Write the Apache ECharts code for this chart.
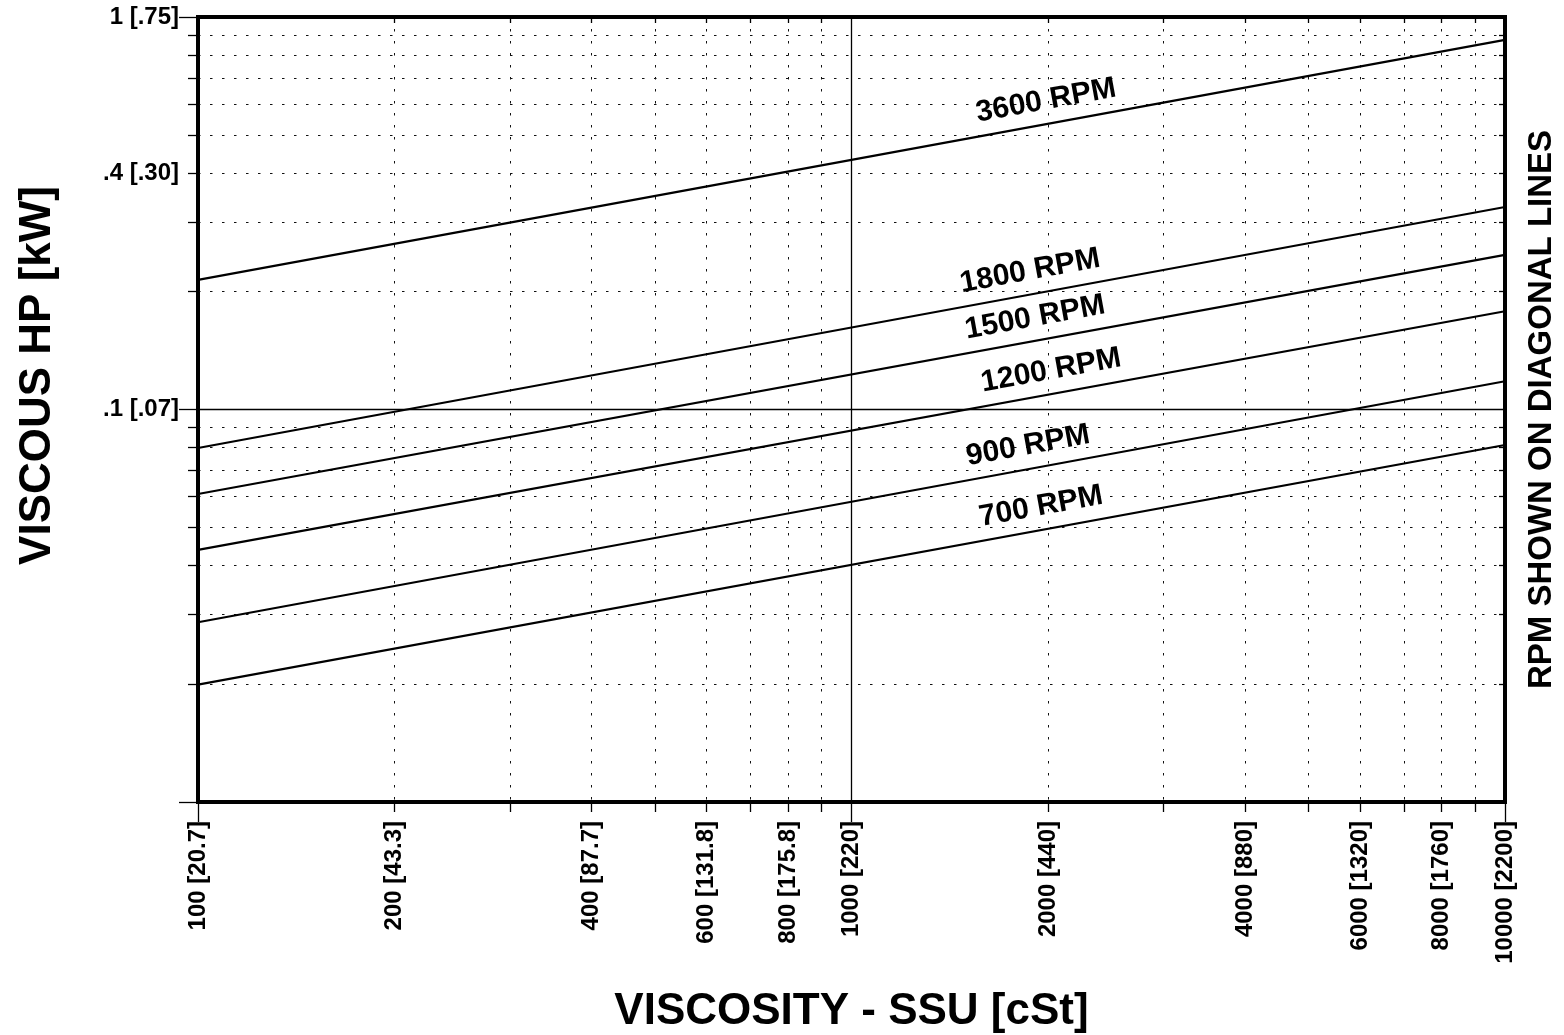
<!DOCTYPE html>
<html><head><meta charset="utf-8">
<script src="https://cdn.jsdelivr.net/npm/echarts@6/dist/echarts.min.js"></script>
<style>html,body{margin:0;padding:0;background:#fff}#c{width:1564px;height:1035px}</style>
</head><body><div id="c"></div>
<script>
// ---- data ----
const rpmNames = ['3600 RPM', '1800 RPM', '1500 RPM', '1200 RPM', '900 RPM', '700 RPM'];
const viscosityEnds = [100, 10000];
const hp3600 = [0.214, 0.874];
const hp1800 = [0.0798, 0.328];
const hp1500 = [0.0609, 0.2476];
const hp1200 = [0.0439, 0.178];
const hp900 = [0.0287, 0.118];
const hp700 = [0.0199, 0.0812];
const hpSeries = [hp3600, hp1800, hp1500, hp1200, hp900, hp700];

const xMajorTicks = [100, 1000, 10000];
const xMinorTicks = [200, 300, 400, 500, 600, 700, 800, 900, 2000, 3000, 4000, 5000, 6000, 7000, 8000, 9000];
const xLabelValues = [100, 200, 400, 600, 800, 1000, 2000, 4000, 6000, 8000, 10000];
const xLabelTexts = ['100 [20.7]', '200 [43.3]', '400 [87.7]', '600 [131.8]', '800 [175.8]', '1000 [220]', '2000 [440]', '4000 [880]', '6000 [1320]', '8000 [1760]', '10000 [2200]'];
const yMajorTicks = [0.01, 0.1, 1];
const yMinorTicks = [0.02, 0.03, 0.04, 0.05, 0.06, 0.07, 0.08, 0.09, 0.2, 0.3, 0.4, 0.5, 0.6, 0.7, 0.8, 0.9];
const yLabelValues = [0.1, 0.4, 1];
const yLabelTexts = ['.1 [.07]', '.4 [.30]', '1 [.75]'];
const yAxisTitle = 'VISCOUS HP [kW]';

// ---- styling ----
const FONT = '"Liberation Sans", Arial, Helvetica, sans-serif';
const labelAnchorSSU = 2000;
const labelShiftPx = [2, -14, -9, 7, -16, -3];
const labelLift = 23;

function lookup(values, texts, v) {
  for (let i = 0; i < values.length; i++) {
    if (Math.abs(v - values[i]) / values[i] < 1e-6) return texts[i];
  }
  return '';
}
const dotted = { color: '#111', width: 1, type: [2.5, 9.5] };
const solidThin = { color: '#000', width: 1.3, type: 'solid' };
const tickStyle = { color: '#000', width: 1.3 };
const tickFont = { fontSize: 24, fontWeight: 'bold', color: '#000', fontFamily: FONT };

const chart = echarts.init(document.getElementById('c'), null, { renderer: 'canvas' });
const baseX = { type: 'log', logBase: 10, min: 100, max: 10000, gridIndex: 0, axisLine: { show: false }, nameMoveOverlap: false };
const baseY = { type: 'log', logBase: 10, min: 0.01, max: 1, gridIndex: 0, axisLine: { show: false }, nameMoveOverlap: false };

const option = {
  animation: false,
  backgroundColor: '#fff',
  grid: { left: 198, right: 59, top: 17, bottom: 233, show: true, borderColor: '#000', borderWidth: 4, containLabel: false, outerBoundsMode: 'none' },
  xAxis: [
    Object.assign({}, baseX, {
      position: 'bottom',
      name: 'VISCOSITY - SSU [cSt]', nameLocation: 'middle', nameGap: 188,
      nameTextStyle: { fontSize: 44, fontWeight: 'bold', color: '#000', fontFamily: FONT },
      axisTick: { show: true, inside: false, length: 20, lineStyle: tickStyle, customValues: xMajorTicks },
      axisLabel: Object.assign({ show: true, rotate: 90, margin: 19, customValues: xLabelValues.filter(v => xMajorTicks.indexOf(v) >= 0),
        formatter: v => lookup(xLabelValues, xLabelTexts, v) }, tickFont),
      splitLine: { show: true, lineStyle: solidThin }
    }),
    Object.assign({}, baseX, {
      position: 'bottom',
      axisTick: { show: true, inside: false, length: 10, lineStyle: tickStyle, customValues: xMinorTicks },
      axisLabel: Object.assign({ show: true, rotate: 90, margin: 19, customValues: xLabelValues.filter(v => xMajorTicks.indexOf(v) < 0),
        formatter: v => lookup(xLabelValues, xLabelTexts, v) }, tickFont),
      splitLine: { show: true, lineStyle: dotted }
    }),
    Object.assign({}, baseX, {
      position: 'top',
      axisTick: { show: true, inside: true, length: 6, lineStyle: tickStyle, customValues: xMinorTicks },
      axisLabel: { show: false },
      splitLine: { show: false }
    })
  ],
  yAxis: [
    Object.assign({}, baseY, {
      position: 'left',
      axisTick: { show: true, inside: false, length: 19, lineStyle: tickStyle, customValues: yMajorTicks },
      axisLabel: Object.assign({ show: true, margin: 19, customValues: yLabelValues.filter(v => yMajorTicks.indexOf(v) >= 0),
        formatter: v => lookup(yLabelValues, yLabelTexts, v) }, tickFont),
      splitLine: { show: true, lineStyle: solidThin }
    }),
    Object.assign({}, baseY, {
      position: 'left',
      axisTick: { show: true, inside: false, length: 10, lineStyle: tickStyle, customValues: yMinorTicks },
      axisLabel: Object.assign({ show: true, margin: 19, customValues: yLabelValues.filter(v => yMajorTicks.indexOf(v) < 0),
        formatter: v => lookup(yLabelValues, yLabelTexts, v) }, tickFont),
      splitLine: { show: true, lineStyle: dotted }
    }),
    Object.assign({}, baseY, {
      position: 'right',
      name: 'RPM SHOWN ON DIAGONAL LINES', nameLocation: 'middle', nameGap: 20, nameRotate: 90,
      nameTextStyle: { fontSize: 33, fontWeight: 'bold', color: '#000', fontFamily: FONT },
      axisTick: { show: true, inside: true, length: 6, lineStyle: tickStyle, customValues: yMinorTicks },
      axisLabel: { show: false },
      splitLine: { show: false }
    })
  ],
  series: hpSeries.map((vals, i) => ({
    name: rpmNames[i],
    type: 'line',
    xAxisIndex: 0, yAxisIndex: 0,
    data: viscosityEnds.map((x, j) => [x, vals[j]]),
    showSymbol: false, symbol: 'none', silent: true,
    lineStyle: { color: '#000', width: 2.2 },
    z: 5
  }))
};
chart.setOption(option);

// labels along the diagonal lines
const texts = hpSeries.map((vals, i) => {
  const p0 = chart.convertToPixel({ xAxisIndex: 0, yAxisIndex: 0 }, [viscosityEnds[0], vals[0]]);
  const p1 = chart.convertToPixel({ xAxisIndex: 0, yAxisIndex: 0 }, [viscosityEnds[1], vals[1]]);
  const ax = chart.convertToPixel({ xAxisIndex: 0 }, labelAnchorSSU) + labelShiftPx[i];
  const t = (ax - p0[0]) / (p1[0] - p0[0]);
  const ay = p0[1] + t * (p1[1] - p0[1]);
  const ang = Math.atan2(p0[1] - p1[1], p1[0] - p0[0]);
  return {
    type: 'text', x: ax, y: ay, rotation: ang, z: 10, silent: true,
    style: { text: rpmNames[i], x: 0, y: -labelLift, align: 'center', verticalAlign: 'middle',
      font: 'bold 30px ' + FONT, fill: '#000' }
  };
});
// left axis title
texts.push({
  type: 'text', x: 38, y: 186, rotation: Math.PI / 2, silent: true,
  style: { text: yAxisTitle, align: 'right', verticalAlign: 'middle', font: 'bold 44px ' + FONT, fill: '#000' }
});
chart.setOption({ graphic: texts });
</script></body></html>
